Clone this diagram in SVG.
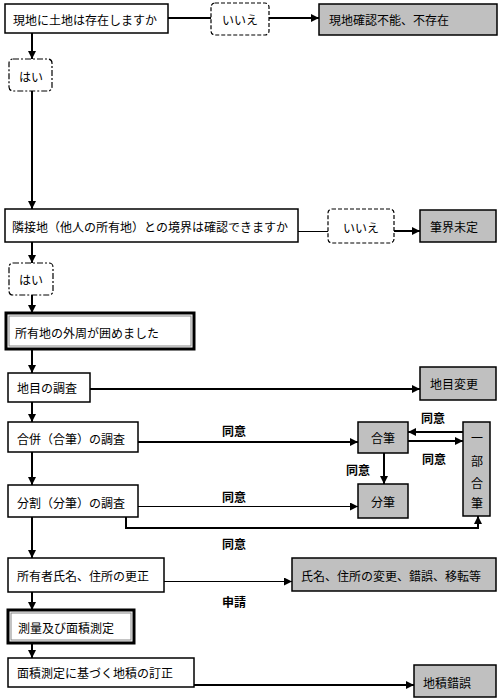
<svg xmlns="http://www.w3.org/2000/svg" width="501" height="700" viewBox="0 0 501 700">
<style>
.box{fill:#fff;stroke:#000;stroke-width:1.5}
.gray{fill:#c0c0c0;stroke:#000;stroke-width:1.5}
.dash{fill:#fff;stroke:#000;stroke-width:1.2;stroke-dasharray:4 2}
.dashdot{fill:#fff;stroke:#000;stroke-width:1.2;stroke-dasharray:6 2 2 2}
.outer{fill:#fff;stroke:#000;stroke-width:3}
.inner{fill:none;stroke:#888;stroke-width:1}
.t{font-family:"Noto Sans CJK JP","Noto Sans",sans-serif;font-size:12px;fill:#000;dominant-baseline:central}
.c{text-anchor:middle}
.lbl{font-family:"Noto Sans CJK JP","Noto Sans",sans-serif;font-size:12px;font-weight:bold;fill:#000;dominant-baseline:central}
.ln{stroke:#000;stroke-width:2;fill:none}
.thin{stroke-width:1}
</style>
<defs>
<marker id="ah" markerUnits="userSpaceOnUse" markerWidth="8" markerHeight="8" refX="8" refY="4" orient="auto">
<path d="M0,0 L8,4 L0,8 z" fill="#000"/>
</marker>
</defs>
<rect width="501" height="700" fill="#fff"/>
<g id="connectors">
<line class="ln" x1="168" y1="18" x2="211" y2="18"/>
<line class="ln" x1="269" y1="18" x2="319" y2="18" marker-end="url(#ah)"/>
<line class="ln" x1="32" y1="33" x2="32" y2="59" marker-end="url(#ah)"/>
<line class="ln" x1="32" y1="91" x2="32" y2="209" marker-end="url(#ah)"/>
<line class="ln thin" x1="298" y1="231.5" x2="328" y2="231.5"/>
<line class="ln" x1="394" y1="231" x2="420" y2="231" marker-end="url(#ah)"/>
<line class="ln" x1="32" y1="242" x2="32" y2="263" marker-end="url(#ah)"/>
<line class="ln" x1="32" y1="295" x2="32" y2="313" marker-end="url(#ah)"/>
<line class="ln" x1="32" y1="349" x2="32" y2="373" marker-end="url(#ah)"/>
<line class="ln" x1="90" y1="389" x2="420" y2="389" marker-end="url(#ah)"/>
<line class="ln" x1="32" y1="402" x2="32" y2="422" marker-end="url(#ah)"/>
<line class="ln" x1="138" y1="442" x2="358" y2="442" marker-end="url(#ah)"/>
<line class="ln" x1="463" y1="432" x2="408" y2="432" marker-end="url(#ah)"/>
<line class="ln" x1="408" y1="441" x2="463" y2="441" marker-end="url(#ah)"/>
<line class="ln" x1="384" y1="453" x2="384" y2="484" marker-end="url(#ah)"/>
<line class="ln" x1="32" y1="452" x2="32" y2="485" marker-end="url(#ah)"/>
<line class="ln thin" x1="138" y1="506.5" x2="358" y2="506.5" marker-end="url(#ah)"/>
<polyline class="ln" points="126,517 126,528 478,528 478,516" marker-end="url(#ah)"/>
<line class="ln" x1="32" y1="517" x2="32" y2="558" marker-end="url(#ah)"/>
<line class="ln thin" x1="164" y1="581.5" x2="292" y2="581.5" marker-end="url(#ah)"/>
<line class="ln" x1="32" y1="592" x2="32" y2="610" marker-end="url(#ah)"/>
<line class="ln" x1="32" y1="643" x2="32" y2="658" marker-end="url(#ah)"/>
<line class="ln" x1="194" y1="685" x2="414" y2="685" marker-end="url(#ah)"/>
<text class="lbl" x="222" y="430">同意</text>
<text class="lbl" x="222" y="496">同意</text>
<text class="lbl" x="222" y="543">同意</text>
<text class="lbl" x="346" y="469">同意</text>
<text class="lbl" x="421" y="417">同意</text>
<text class="lbl" x="422" y="458">同意</text>
<text class="lbl" x="222" y="601">申請</text>
</g>
<g id="n1"><rect class="box" x="5" y="4" width="163" height="29"/><text class="t" x="13" y="19">現地に土地は存在しますか</text></g>
<g id="n1no"><rect class="dash" x="211" y="3" width="58" height="32" rx="4"/><text class="t c" x="240" y="19">いいえ</text></g>
<g id="r1"><rect class="gray" x="319" y="4" width="178" height="31"/><text class="t" x="329" y="19">現地確認不能、不存在</text></g>
<g id="n1yes"><rect class="dashdot" x="9" y="59" width="43" height="32" rx="4"/><text class="t c" x="31" y="76">はい</text></g>
<g id="n2"><rect class="box" x="5" y="209" width="293" height="33"/><text class="t" x="12" y="226">隣接地（他人の所有地）との境界は確認できますか</text></g>
<g id="n2no"><rect class="dash" x="328" y="209" width="66" height="34" rx="4"/><text class="t c" x="361" y="227">いいえ</text></g>
<g id="r2"><rect class="gray" x="420" y="210" width="76" height="32"/><text class="t" x="430" y="226">筆界未定</text></g>
<g id="n2yes"><rect class="dashdot" x="9" y="263" width="44" height="32" rx="4"/><text class="t c" x="31" y="279">はい</text></g>
<g id="n3"><rect class="outer" x="6" y="313" width="188" height="36"/><rect class="inner" x="9" y="316" width="182" height="30"/><text class="t" x="15" y="332">所有地の外周が囲めました</text></g>
<g id="n4"><rect class="box" x="8" y="373" width="82" height="29"/><text class="t" x="17" y="387">地目の調査</text></g>
<g id="r4"><rect class="gray" x="420" y="367" width="76" height="33"/><text class="t" x="430" y="383">地目変更</text></g>
<g id="n5"><rect class="box" x="8" y="422" width="130" height="30"/><text class="t" x="17" y="438">合併（合筆）の調査</text></g>
<g id="gappitsu"><rect class="gray" x="358" y="422" width="50" height="31"/><text class="t c" x="383" y="437">合筆</text></g>
<g id="ichibu"><rect class="gray" x="463" y="422" width="27" height="94"/>
<text class="t c" x="477" y="437">一</text><text class="t c" x="477" y="460">部</text><text class="t c" x="477" y="482">合</text><text class="t c" x="477" y="502">筆</text></g>
<g id="n6"><rect class="box" x="8" y="485" width="130" height="32"/><text class="t" x="17" y="502">分割（分筆）の調査</text></g>
<g id="bunpitsu"><rect class="gray" x="358" y="484" width="50" height="34"/><text class="t c" x="383" y="501">分筆</text></g>
<g id="n7"><rect class="box" x="8" y="558" width="156" height="34"/><text class="t" x="17" y="575">所有者氏名、住所の更正</text></g>
<g id="r7"><rect class="gray" x="292" y="558" width="204" height="33"/><text class="t" x="301" y="575">氏名、住所の変更、錯誤、移転等</text></g>
<g id="n8"><rect class="outer" x="8" y="610" width="126" height="33"/><rect class="inner" x="11" y="613" width="120" height="27"/><text class="t" x="18" y="627">測量及び面積測定</text></g>
<g id="n9"><rect class="box" x="8" y="658" width="186" height="29"/><text class="t" x="17" y="672">面積測定に基づく地積の訂正</text></g>
<g id="r9"><rect class="gray" x="414" y="665" width="82" height="32"/><text class="t" x="423" y="682">地積錯誤</text></g>
</svg>
